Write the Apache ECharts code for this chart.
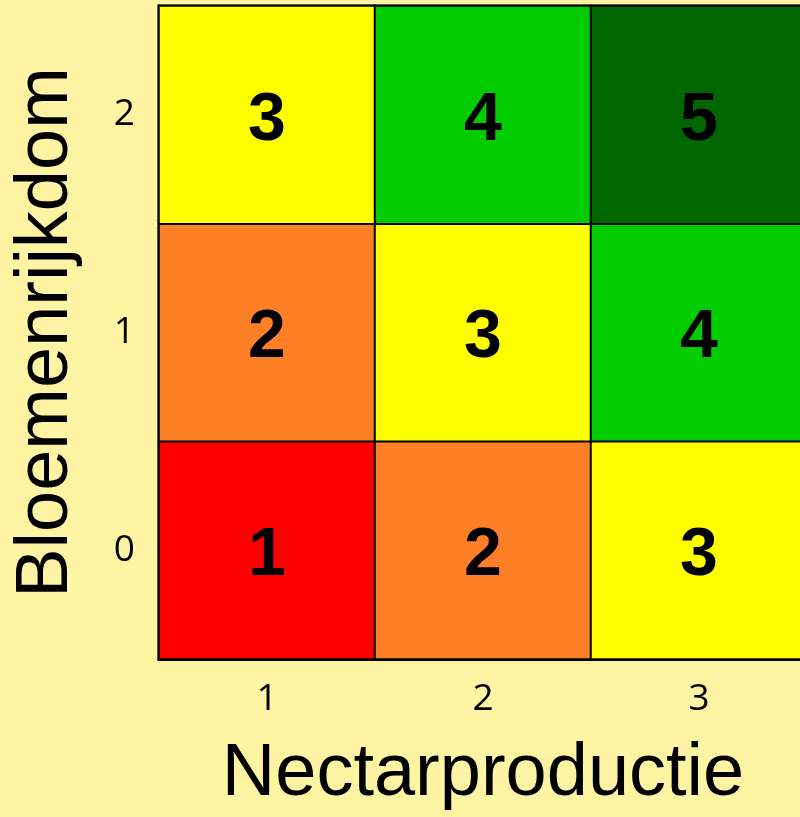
<!DOCTYPE html>
<html>
<head>
<meta charset="utf-8">
<script src="https://cdn.jsdelivr.net/npm/echarts@6/dist/echarts.min.js"></script>
<style>
html,body{margin:0;padding:0;background:#FEF4A3;}
#chart{width:800px;height:817px;}
</style>
</head>
<body>
<div id="chart"></div>
<script>
// Data
const xCategories = ['1', '2', '3'];          // Nectarproductie
const yCategories = ['0', '1', '2'];          // Bloemenrijkdom
const rowY0 = [1, 2, 3];                      // Bloemenrijkdom = 0
const rowY1 = [2, 3, 4];                      // Bloemenrijkdom = 1
const rowY2 = [3, 4, 5];                      // Bloemenrijkdom = 2
const xTitle = 'Nectarproductie';
const yTitle = 'Bloemenrijkdom';

// Style
const scoreColors = {1: '#FF0000', 2: '#FF7F27', 3: '#FFFF00', 4: '#00CC00', 5: '#006600'};

const rows = [rowY0, rowY1, rowY2];
const heatData = [];
rows.forEach((row, yi) => row.forEach((v, xi) => heatData.push([xi, yi, v])));

const chart = echarts.init(document.getElementById('chart'));
chart.setOption({
  backgroundColor: '#FEF4A3',
  animation: false,
  grid: {
    left: 159, top: 6, width: 648, height: 653,
    outerBoundsMode: 'none',
    containLabel: false,
    show: true, borderColor: '#000', borderWidth: 3, backgroundColor: 'transparent'
  },
  xAxis: {
    type: 'category',
    data: xCategories,
    name: xTitle,
    nameLocation: 'middle',
    nameGap: 79,
    nameTextStyle: {fontFamily: 'Liberation Sans', fontSize: 74, color: '#000'},
    axisLine: {show: true, lineStyle: {color: '#000', width: 3}},
    axisTick: {show: false},
    splitLine: {show: false},
    axisLabel: {fontFamily: 'Open Sans', fontSize: 37, color: '#000', margin: 22}
  },
  yAxis: {
    type: 'category',
    data: yCategories,
    name: yTitle,
    nameLocation: 'middle',
    nameGap: 75,
    nameRotate: 90,
    nameTextStyle: {fontFamily: 'Liberation Sans', fontSize: 74, color: '#000'},
    axisLine: {show: true, lineStyle: {color: '#000', width: 3}},
    axisTick: {show: false},
    splitLine: {show: false},
    axisLabel: {fontFamily: 'Open Sans', fontSize: 37, color: '#000', margin: 24}
  },
  visualMap: {
    show: false,
    type: 'piecewise',
    dimension: 2,
    pieces: Object.keys(scoreColors).map(k => ({value: +k, color: scoreColors[k]}))
  },
  series: [{
    type: 'heatmap',
    data: heatData,
    itemStyle: {borderColor: '#000', borderWidth: 2},
    label: {
      show: true,
      formatter: p => p.value[2],
      fontFamily: 'Liberation Sans',
      fontWeight: 'bold',
      fontSize: 68,
      color: '#000',
      offset: [0, 6]
    },
    emphasis: {disabled: true}
  }]
});
</script>
</body>
</html>
